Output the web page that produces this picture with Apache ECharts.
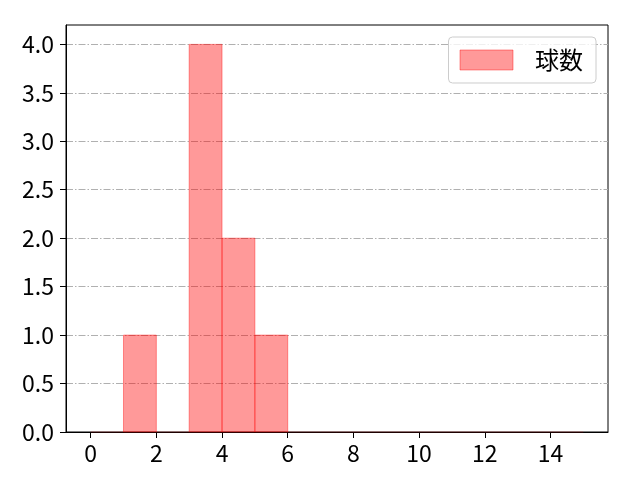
<!DOCTYPE html>
<html><head><meta charset="utf-8">
<script src="https://cdn.jsdelivr.net/npm/echarts@6/dist/echarts.min.js"></script>
<style>html,body{margin:0;padding:0;background:#fff}#c{width:640px;height:480px}</style>
</head><body><div id="c"></div>
<script>
const binStarts = [0,1,2,3,4,5,6,7,8,9,10,11,12,13,14];
const binWidth = 1;
const counts = [0,1,0,4,2,1,0,0,0,0,0,0,0,0,0];
const xTicks = [0,2,4,6,8,10,12,14];
const yTicks = [0,0.5,1.0,1.5,2.0,2.5,3.0,3.5,4.0];
const seriesName = '球数';

const data = binStarts.map((s,i)=>[s, s+binWidth, counts[i]]);
const font = '"Noto Sans CJK JP", "Noto Sans", sans-serif';
const chart = echarts.init(document.getElementById('c'), null, {renderer:'canvas'});
chart.setOption({
  animation:false,
  grid:{left:66,right:32,top:25,bottom:48,show:true,borderColor:'#000',borderWidth:1,backgroundColor:'transparent'},
  legend:{
    right:44, top:37, orient:'horizontal',
    data:[{name:seriesName, icon:'rect', itemStyle:{color:'rgba(255,0,0,0.4)', borderColor:'rgba(255,0,0,0.4)', borderWidth:1}}],
    itemWidth:53, itemHeight:20,
    padding:[11,13,11,11],
    borderColor:'#cccccc', borderWidth:1, borderRadius:4,
    backgroundColor:'rgba(255,255,255,0.8)',
    textStyle:{fontFamily:font, fontSize:24, color:'#000', padding:[0,0,0,17]}
  },
  xAxis:{
    type:'value', min:-0.75, max:15.75,
    axisLine:{show:true,onZero:false,lineStyle:{color:'#000',width:1}},
    axisTick:{show:true,inside:false,length:6,customValues:xTicks,lineStyle:{color:'#000'}},
    axisLabel:{customValues:xTicks,fontFamily:font,fontSize:23,color:'#000',margin:10,
      formatter:v=>String(v)},
    splitLine:{show:false}
  },
  yAxis:{
    type:'value', min:0, max:4.2,
    axisLine:{show:true,onZero:false,lineStyle:{color:'#000',width:1}},
    axisTick:{show:true,inside:false,length:6,customValues:yTicks,lineStyle:{color:'#000'}},
    axisLabel:{customValues:yTicks,fontFamily:font,fontSize:23,color:'#000',margin:12,
      formatter:v=>v.toFixed(1)},
    splitLine:{show:true,lineStyle:{color:'#b0b0b0',width:1,type:[7,2,1.5,2]}}
  },
  series:[{
    name:seriesName,
    type:'custom',
    data:data,
    encode:{x:[0,1],y:2},
    renderItem:function(params,api){
      const v = api.value(2);
      const p0 = api.coord([api.value(0), v]);
      const p1 = api.coord([api.value(1), 0]);
      return {
        type:'rect',
        shape:{x:p0[0], y:p0[1], width:p1[0]-p0[0], height:p1[1]-p0[1]},
        style:{fill:'rgba(255,0,0,0.4)', stroke: v>0 ? 'rgba(255,0,0,0.4)' : 'rgba(255,0,0,0.12)', lineWidth:1}
      };
    }
  }]
});
</script>
</body></html>
